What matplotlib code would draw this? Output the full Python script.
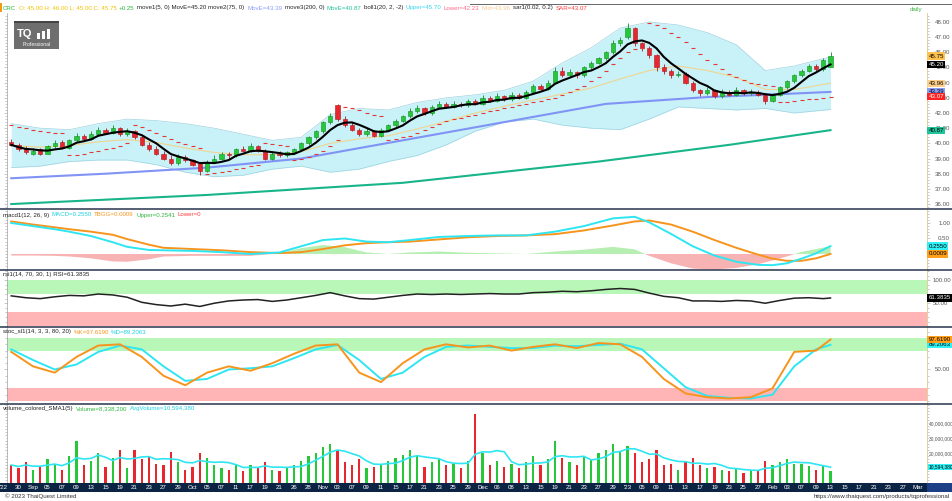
import numpy as np
import pandas as pd
import matplotlib
matplotlib.use('Agg')
from matplotlib import pyplot as plt
from matplotlib.lines import Line2D
from matplotlib.patches import Rectangle
from matplotlib.ticker import MultipleLocator, FixedLocator, FuncFormatter

plt.rcParams['font.family'] = ['Liberation Sans', 'DejaVu Sans']
FS = 4.4
W, H = 952, 501

# ---------------- data ----------------
date_labels = ["'22", '30', 'Sep', '05', '07', '09', '13', '15', '19', '21', '23', '27', '29',
               'Oct', '05', '07', '11', '17', '19', '21', '26', '28',
               'Nov', '03', '07', '09', '11', '15', '17', '21', '23', '25', '29',
               'Dec', '06', '08', '13', '15', '19', '21', '23', '27', '29',
               "'23", '05', '09', '11', '13', '17', '19', '23', '25', '27',
               'Feb', '03', '07', '09', '13', '15', '17', '21', '23', '27', 'Mar']

opens = [40.1, 39.9, 39.6, 39.3, 39.6, 39.3, 39.8, 40.1, 39.7, 40.2,
         40.5, 40.3, 40.6, 40.9, 40.7, 41.0, 40.6, 40.8, 40.4, 39.9,
         39.6, 39.3, 39.0, 38.7, 39.1, 38.9, 38.7, 38.2, 38.8, 39.0,
         39.3, 39.2, 39.6, 39.5, 39.8, 39.5, 39.0, 39.3, 39.2, 39.4,
         39.6, 40.0, 40.4, 40.8, 41.4, 42.5, 41.6, 41.2, 40.9, 40.6,
         40.8, 40.5, 40.9, 41.2, 41.5, 41.8, 42.1, 42.3, 42.0, 42.4,
         42.6, 42.4, 42.6, 42.5, 42.8, 42.6, 43.0, 42.8, 43.1, 42.9,
         43.2, 43.0, 43.4, 43.8, 43.6, 44.0, 44.8, 44.5, 44.7, 44.5,
         45.0, 45.3, 45.6, 46.0, 46.6, 47.0, 47.6, 46.6, 46.3, 45.8,
         45.0, 44.8, 44.5, 44.6, 44.0, 43.5, 43.3, 43.5, 43.1, 43.4,
         43.2, 43.5, 43.3, 43.4, 43.2, 42.8, 43.2, 43.7, 44.1, 44.5,
         44.75, 45.1, 44.9, 45.0]
highs = [40.3, 40.0, 39.8, 39.7, 39.7, 39.9, 40.2, 40.2, 40.3, 40.7,
         40.6, 40.8, 41.1, 41.0, 41.2, 41.1, 41.0, 40.9, 40.5, 40.1,
         39.8, 39.5, 39.2, 39.3, 39.2, 39.0, 38.8, 38.9, 39.2, 39.4,
         39.4, 39.7, 39.8, 40.0, 39.9, 39.6, 39.4, 39.5, 39.5, 39.7,
         40.1, 40.5, 40.9, 41.5, 42.0, 42.6, 41.8, 41.4, 41.0, 41.0,
         40.9, 41.0, 41.3, 41.6, 41.9, 42.3, 42.5, 42.4, 42.5, 42.8,
         42.7, 42.8, 42.7, 42.9, 42.9, 43.2, 43.1, 43.3, 43.2, 43.4,
         43.3, 43.5, 43.9, 43.9, 44.2, 45.0, 45.0, 44.9, 44.8, 45.1,
         45.4, 45.7, 46.1, 46.8, 47.0, 47.9, 47.7, 46.7, 46.4, 45.9,
         45.2, 44.9, 44.8, 44.7, 44.1, 43.6, 43.7, 43.6, 43.6, 43.5,
         43.7, 43.6, 43.6, 43.5, 43.3, 43.3, 43.8, 44.2, 44.6, 44.9,
         45.2, 45.2, 45.6, 46.0]
lows = [39.8, 39.5, 39.3, 39.2, 39.2, 39.3, 39.7, 39.6, 39.6, 40.1,
        40.2, 40.2, 40.5, 40.6, 40.6, 40.5, 40.5, 40.3, 39.8, 39.5,
        39.2, 38.9, 38.6, 38.6, 38.8, 38.5, 37.9, 38.1, 38.7, 38.9,
        39.0, 39.1, 39.4, 39.4, 39.4, 38.9, 38.9, 39.1, 39.1, 39.3,
        39.5, 39.9, 40.3, 40.7, 41.3, 41.5, 41.1, 40.8, 40.5, 40.5,
        40.4, 40.4, 40.8, 41.1, 41.4, 41.7, 42.0, 41.9, 41.9, 42.3,
        42.3, 42.3, 42.4, 42.4, 42.5, 42.5, 42.7, 42.7, 42.8, 42.8,
        42.9, 42.9, 43.3, 43.5, 43.5, 43.9, 44.4, 44.4, 44.3, 44.4,
        44.9, 45.2, 45.5, 45.9, 46.4, 46.9, 46.4, 46.1, 45.6, 44.8,
        44.6, 44.3, 44.4, 43.9, 43.4, 43.1, 43.2, 43.0, 43.0, 43.1,
        43.1, 43.2, 43.2, 43.1, 42.6, 42.7, 43.1, 43.6, 44.0, 44.4,
        44.7, 44.8, 44.8, 45.0]
closes = [39.9, 39.6, 39.4, 39.5, 39.3, 39.8, 40.0, 39.7, 40.2, 40.5,
          40.3, 40.6, 40.9, 40.7, 41.0, 40.6, 40.8, 40.4, 39.9, 39.6,
          39.3, 39.0, 38.7, 39.1, 38.9, 38.6, 38.2, 38.8, 39.0, 39.3,
          39.2, 39.6, 39.5, 39.8, 39.5, 39.0, 39.3, 39.2, 39.4, 39.6,
          40.0, 40.4, 40.8, 41.4, 41.8, 41.6, 41.2, 40.9, 40.6, 40.8,
          40.5, 40.9, 41.2, 41.5, 41.8, 42.1, 42.3, 42.0, 42.4, 42.6,
          42.4, 42.6, 42.5, 42.8, 42.6, 43.0, 42.8, 43.1, 42.9, 43.2,
          43.0, 43.4, 43.8, 43.6, 44.0, 44.8, 44.5, 44.7, 44.5, 45.0,
          45.3, 45.6, 46.0, 46.6, 46.8, 47.6, 46.6, 46.3, 45.8, 45.0,
          44.8, 44.5, 44.6, 44.0, 43.5, 43.3, 43.5, 43.1, 43.4, 43.2,
          43.5, 43.3, 43.4, 43.2, 42.8, 43.2, 43.7, 44.1, 44.5, 44.75,
          45.1, 44.9, 45.5, 45.75]

# parabolic SAR dots, one per candle
sar = [41.2, 41.1, 41.0, 40.9, 40.8, 40.75, 40.7, 40.65,
       39.2, 39.25, 39.3, 39.4, 39.5, 39.6, 39.7, 39.85, 40.0,
       41.2, 41.1, 40.9, 40.7, 40.5, 40.3, 40.1, 39.95, 39.8, 39.7,
       38.0, 38.05, 38.1, 38.2, 38.3, 38.4, 38.5, 38.6,
       40.0, 39.95, 39.9, 39.85,
       38.9, 39.0, 39.1, 39.3, 39.5, 39.8, 40.2,
       42.4, 42.3, 42.2, 42.0, 41.9, 41.8,
       40.2, 40.3, 40.4, 40.5, 40.7, 40.9, 41.1, 41.3, 41.5, 41.6,
       41.7, 41.8, 41.9, 42.0, 42.1, 42.2, 42.3, 42.4, 42.5, 42.6,
       42.7, 42.8, 42.9, 43.0, 43.2, 43.4, 43.6, 43.8, 44.1, 44.4,
       44.8, 45.2, 45.6, 46.0, 46.2, 46.3,
       47.9, 47.8, 47.6, 47.3, 47.0, 46.7, 46.3, 45.9, 45.5, 45.2,
       44.9, 44.6, 44.4, 44.2, 44.0, 43.9, 43.85, 43.8,
       42.7, 42.75, 42.8, 42.85, 42.9, 42.95, 43.0, 43.07]

# bollinger band (20, 2) sampled
bb_idx = [1, 5, 9, 13, 17, 21, 25, 29, 33, 37, 41, 45, 49, 53, 57, 61, 65, 69, 73,
          77, 81, 85, 89, 93, 97, 101, 105, 109, 114]
bb_upper = [41.3, 41.0, 40.9, 41.3, 41.6, 41.5, 41.3, 41.0, 40.6, 40.2, 40.4, 41.9, 42.3,
            42.2, 42.7, 43.0, 43.2, 43.5, 44.1, 45.3, 46.3, 47.6, 48.0, 47.8, 47.3, 46.5,
            44.8, 45.1, 45.70]
bb_lower = [38.4, 38.5, 38.8, 38.9, 38.9, 38.6, 38.1, 37.8, 37.9, 38.3, 38.5, 38.1, 38.3,
            38.8, 39.2, 39.9, 40.8, 41.4, 41.6, 41.2, 41.0, 40.9, 41.6, 42.4, 42.3, 42.2,
            42.3, 42.0, 42.23]

ma75_idx = [1, 14, 28, 41, 55, 69, 83, 97, 105, 114]
ma75 = [37.7, 38.0, 38.4, 39.0, 40.2, 41.4, 42.6, 43.05, 43.2, 43.39]
ma200_idx = [1, 28, 55, 82, 100, 114]
ma200 = [36.0, 36.6, 37.4, 38.8, 39.9, 40.87]

# MACD (12, 26, 9) sampled
macd_idx = [1, 4, 7, 9, 12, 15, 17, 20, 22, 26, 30, 34, 38, 41, 44, 47, 50, 53, 56, 60,
            64, 68, 72, 76, 80, 84, 87, 89, 92, 95, 98, 101, 104, 106, 108, 110, 112, 114]
macd_line = [1.00, 0.90, 0.80, 0.72, 0.58, 0.38, 0.23, 0.13, 0.12, 0.10, 0.06, 0.0, 0.05,
             0.25, 0.45, 0.50, 0.40, 0.38, 0.45, 0.55, 0.58, 0.60, 0.60, 0.72, 0.90, 1.15,
             1.20, 1.02, 0.65, 0.25, -0.05, -0.25, -0.35, -0.36, -0.30, -0.15, 0.02, 0.2550]
macd_signal = [1.05, 0.95, 0.86, 0.80, 0.72, 0.62, 0.48, 0.30, 0.20, 0.16, 0.12, 0.06, 0.03,
               0.06, 0.16, 0.28, 0.35, 0.38, 0.40, 0.47, 0.54, 0.58, 0.60, 0.64, 0.76, 0.92,
               1.05, 1.08, 0.95, 0.72, 0.45, 0.20, -0.02, -0.15, -0.22, -0.22, -0.14, 0.0009]

rsi_idx = list(range(1, 114, 2)) + [114]
rsi = [66, 62, 60, 64, 67, 66, 70, 68, 63, 52, 47, 44, 48, 43, 50, 55, 57, 58, 54, 57,
       62, 67, 73, 66, 60, 59, 63, 67, 70, 69, 70, 69, 70, 71, 70, 70, 73, 74, 76, 75,
       77, 80, 82, 80, 72, 65, 62, 55, 55, 54, 56, 55, 50, 56, 61, 62, 60, 61.3835]

stoch_idx = list(range(1, 113, 3)) + [114]
stoch_k = [78, 55, 45, 70, 88, 90, 70, 40, 25, 45, 55, 48, 60, 75, 88, 90, 45, 30, 60, 82,
           90, 85, 88, 80, 86, 90, 84, 92, 90, 70, 35, 12, 6, 4, 6, 20, 78, 80, 97.619]
stoch_d = [82, 65, 50, 58, 78, 88, 82, 55, 32, 35, 50, 52, 55, 68, 82, 89, 65, 35, 45, 70,
           86, 88, 86, 84, 84, 88, 87, 89, 91, 82, 52, 22, 8, 5, 4, 10, 55, 82, 89.2063]

# volume in millions of shares
volume = [12, 10, 14, 9, 11, 16, 13, 9, 18, 28,
          12, 15, 20, 11, 17, 22, 10, 22, 16, 18,
          13, 12, 21, 14, 9, 11, 20, 17, 12, 10,
          9, 13, 8, 12, 10, 14, 9, 8, 11, 12,
          15, 18, 20, 24, 26, 22, 14, 12, 16, 10,
          11, 13, 15, 17, 19, 22, 18, 11, 14, 16,
          12, 13, 10, 15, 46, 20, 12, 15, 11, 13,
          10, 14, 18, 12, 16, 28, 17, 14, 12, 18,
          16, 20, 22, 26, 21, 25, 20, 14, 16, 22,
          12, 13, 9, 15, 17, 12, 10, 11, 9, 8,
          10, 7, 9, 8, 15, 12, 14, 16, 13, 13,
          11.6, 9, 11.03, 8.3382]

# ---------------- figure ----------------
x = np.arange(1, len(closes) + 1)
o = np.array(opens); c = np.array(closes)
up = c >= o
GREEN, RED = '#26c83a', '#e8262d'
bar_col = np.where(up, GREEN, RED)
edge_col = np.where(up, '#178a25', '#a81a1f')

fig = plt.figure(figsize=(W / 100, H / 100), dpi=100)
fig.patch.set_facecolor('white')


def add_panel(y0, y1, x0=7, x1=927):
    return fig.add_axes([x0 / W, 1 - y1 / H, (x1 - x0) / W, (y1 - y0) / H])


XL = ((7 - 4) / 7.25, (927 - 4) / 7.25)


def style(ax, pad, size=FS, length=2):
    ax.set_xlim(*XL)
    ax.spines['top'].set_visible(False)
    ax.spines['bottom'].set_visible(False)
    ax.spines['left'].set_color('#a0a0a0')
    ax.spines['left'].set_linewidth(0.5)
    ax.spines['right'].set_color('#e3cf9a')
    ax.spines['right'].set_linewidth(0.7)
    ax.set_xticks([])
    ax.tick_params(axis='y', which='both', left=True, right=True, labelleft=False,
                   labelright=True, colors='#a0a0a0', labelcolor='#555555',
                   labelsize=size, pad=pad, length=length, width=0.4)
    ax.tick_params(axis='y', which='minor', length=1.2)


def tag(ax, y, text, fc, tc, size=FS):
    ax.annotate(text, xy=(1, y), xycoords=('axes fraction', 'data'), xytext=(1.0, 0),
                textcoords='offset points', ha='left', va='center', fontsize=size,
                color=tc, annotation_clip=False, zorder=10,
                bbox=dict(boxstyle='square,pad=0.18', fc=fc, ec='none'))


def header(y, parts, x0=3):
    r = fig.canvas.get_renderer()
    xp = x0
    for txt, col in parts:
        t = fig.text(xp / W, 1 - y / H, txt, color=col, fontsize=FS, va='center', ha='left')
        xp += t.get_window_extent(renderer=r).width + 2.4


# main price panel
ax = add_panel(13, 208)
style(ax, 3.5)
ax.set_ylim(35.74, 48.59)
ax.fill_between(bb_idx, bb_lower, bb_upper, color='#c9f1f8', lw=0, zorder=1)
ax.plot(bb_idx, bb_upper, color='#9fd3e0', lw=0.5, zorder=1.5)
ax.plot(bb_idx, bb_lower, color='#9fd3e0', lw=0.5, zorder=1.5)
bb_mid = (np.array(bb_upper) + np.array(bb_lower)) / 2
ax.plot(bb_idx, bb_mid, color='#f0d58f', lw=0.8, zorder=2)
ax.plot(ma200_idx, ma200, color='#18b58a', lw=1.5, zorder=2)
ax.plot(ma75_idx, ma75, color='#8193f5', lw=1.5, zorder=2)
ax.vlines(x, lows, highs, colors=edge_col, lw=0.6, zorder=3)
ax.bar(x, c - o, bottom=o, width=0.62, color=bar_col, edgecolor=edge_col, lw=0.4, zorder=4)
ma5 = pd.Series(closes).rolling(5, min_periods=1).mean()
ax.plot(x, ma5, color='black', lw=1.5, zorder=5)
ax.plot(x, sar, ls='none', marker='_', ms=3, mew=0.8, color='#e53935', zorder=6)
ax.yaxis.set_major_locator(MultipleLocator(1))
ax.yaxis.set_minor_locator(MultipleLocator(0.2))
ax.yaxis.set_major_formatter(FuncFormatter(lambda v, p: f'{v:.2f}'))
tag(ax, 40.87, '40.87', '#1fc49a', 'black')
tag(ax, 43.96, '43.96', '#ffcf8a', 'black')
tag(ax, 43.39, '43.39', '#8a9cf7', 'black')
tag(ax, 43.07, '43.07', '#ff2020', 'white')
tag(ax, 45.75, '45.75', '#ffc14d', 'black')
tag(ax, 45.20, '45.20', 'black', 'white')

# MACD panel
am = add_panel(210, 270)
style(am, 6)
am.set_ylim(-0.516, 1.419)
hist = np.array(macd_line) - np.array(macd_signal)
am.fill_between(macd_idx, 0, hist, where=hist >= 0, interpolate=True, color='#b7efb2', lw=0)
am.fill_between(macd_idx, 0, hist, where=hist <= 0, interpolate=True, color='#f7b3b3', lw=0)
am.plot(macd_idx, macd_signal, color='#f7941d', lw=1.4)
am.plot(macd_idx, macd_line, color='#2ee6f2', lw=1.4)
am.yaxis.set_major_locator(FixedLocator([0.5, 1.0]))
am.yaxis.set_minor_locator(MultipleLocator(0.1))
am.yaxis.set_major_formatter(FuncFormatter(lambda v, p: f'{v:.2f}'))
tag(am, 0.2550, '0.2550', '#2ff0f5', 'black')
tag(am, 0.0009, '0.0009', '#ff9f1a', 'black')

# RSI panel
ar = add_panel(271, 327)
style(ar, 2.0)
ar.set_ylim(-1.6, 120)
ar.axhspan(70, 100, color='#b9f7b9', lw=0)
ar.axhspan(0, 30, color='#ffb5b5', lw=0)
ar.plot(rsi_idx, rsi, color='#222222', lw=1.1)
ar.yaxis.set_major_locator(FixedLocator([50, 100]))
ar.yaxis.set_minor_locator(MultipleLocator(10))
ar.yaxis.set_major_formatter(FuncFormatter(lambda v, p: f'{v:.2f}'))
tag(ar, 61.3835, '61.3835', 'black', 'white')

# stochastic panel
ast = add_panel(328, 403)
style(ast, 3.5)
ast.set_ylim(-3.2, 115.9)
ast.axhspan(80, 100, color='#b9f7b9', lw=0)
ast.axhspan(0, 20, color='#ffb5b5', lw=0)
ast.plot(stoch_idx, stoch_d, color='#2ee6f2', lw=1.4)
ast.plot(stoch_idx, stoch_k, color='#f7941d', lw=1.4)
ast.yaxis.set_major_locator(FixedLocator([50]))
ast.yaxis.set_minor_locator(MultipleLocator(10))
ast.yaxis.set_major_formatter(FuncFormatter(lambda v, p: f'{v:.2f}'))
tag(ast, 89.2063, '89.2063', '#2ff0f5', 'black')
tag(ast, 97.619, '97.6190', '#ff9f1a', 'black')

# volume panel
av = add_panel(404, 483)
style(av, 0.4, size=3.5, length=0.8)
av.set_ylim(0, 52.7)
av.bar(x, volume, width=0.3, color=bar_col, lw=0)
vol_avg = pd.Series(volume).rolling(5, min_periods=1).mean()
av.plot(x, vol_avg, color='#2ee6f2', lw=1.2)
av.yaxis.set_major_locator(FixedLocator([20, 30, 40]))
av.yaxis.set_minor_locator(MultipleLocator(2))
av.yaxis.set_major_formatter(FuncFormatter(lambda v, p: f'{int(round(v * 1e6)):,}'))
tag(av, 10.59438, '10,594,380', '#2ff0f5', 'black', size=3.5)

# date band
ab = fig.add_axes([0, 1 - 492 / H, 927 / W, 9 / H])
ab.set_facecolor('#0c2444')
ab.set_xlim(-4 / 7.25, 923 / 7.25)
ab.set_ylim(0, 1)
ab.set_xticks([]); ab.set_yticks([])
for s in ab.spines.values():
    s.set_visible(False)
for k, lab in enumerate(date_labels):
    ab.text(2 * k, 0.5, lab, color='white', fontsize=FS, ha='center', va='center')
fig.patches.append(Rectangle((927 / W, 1 - 492 / H), 25 / W, 9 / H,
                             transform=fig.transFigure, fc='#1d3f86', ec='none'))

# panel separators
for yy in [208.5, 270.3, 327.3, 403.5]:
    fig.add_artist(Line2D([0, 1], [1 - yy / H] * 2, color='#28344c', lw=1.1))

# headers
header(8, [('CRC', '#2db83d'), ('O: 45.00 H: 46.00 L: 45.00 C: 45.75', '#f2c200'),
           ('+0.25', '#2db83d'), ('move1(5, 0) MovE=45.20', '#222222'),
           ('move2(75, 0)', '#222222'), ('MovE=43.39', '#8a9cf7'),
           ('move3(200, 0)', '#222222'), ('MovE=40.87', '#1fc49a'),
           ('boll1(20, 2, -2)', '#222222'), ('Upper=45.70', '#36d6f0'),
           ('Lower=42.23', '#ff6b8a'), ('Mid=43.96', '#f7c98b'),
           ('sar1(0.02, 0.2)', '#222222'), ('SAR=43.07', '#ff3b3b')])
header(215, [('macd1(12, 26, 9)', '#222222'), ('MACD=0.2550', '#1fd0e0'),
             ('TBGG=0.0009', '#f7941d'), ('Upper=0.2541', '#2db83d'), ('Lower=0', '#ff3b3b')])
header(274.5, [('rsi1(14, 70, 30, 1) RSI=61.3835', '#222222')])
header(332, [('stoc_sl1(14, 3, 3, 80, 20)', '#222222'), ('%K=97.6190', '#f7941d'),
             ('%D=89.2063', '#1fd0e0')])
header(408.5, [('volume_colored_SMA1(5)', '#222222'), ('Volume=8,338,200', '#2db83d'),
               ('AvgVolume=10,594,380', '#1fd0e0')])
fig.add_artist(Line2D([470 / W, 1], [1 - 3.5 / H] * 2, color='#666666', lw=0.7))
fig.patches.append(Rectangle((0, 1 - 12 / H), 2 / W, 9 / H, transform=fig.transFigure,
                             fc='#f39c12', ec='none'))
fig.text(910 / W, 1 - 9 / H, 'daily', color='#3cb043', fontsize=FS, va='center')

# logo
fig.patches.append(Rectangle((14 / W, 1 - 49 / H), 45 / W, 28 / H, transform=fig.transFigure,
                             fc='#6e6e6e', ec='none', zorder=20))
fig.patches.append(Rectangle((14 / W, 1 - 22.5 / H), 45 / W, 1.5 / H, transform=fig.transFigure,
                             fc='#444444', ec='none', zorder=21))
fig.text(17 / W, 1 - 34 / H, 'TQ', color='white', fontsize=8, fontweight='bold',
         va='center', zorder=22)
for k, hgt in enumerate([6, 8, 10]):
    fig.patches.append(Rectangle(((37 + 5 * k) / W, 1 - 39 / H), 3 / W, hgt / H,
                                 transform=fig.transFigure, fc='white', ec='none', zorder=22))
fig.text(36.5 / W, 1 - 44.5 / H, 'Professional', color='white', fontsize=3.6,
         ha='center', va='center', zorder=22)

# footer
fig.text(5 / W, 1 - 496.5 / H, '\u00a9 2023 ThaiQuest Limited', color='#333333',
         fontsize=FS, va='center')
fig.text(950 / W, 1 - 496.5 / H, 'https://www.thaiquest.com/products/tqprofessional',
         color='#333333', fontsize=FS, va='center', ha='right')

fig.savefig('out.png', dpi=100)
